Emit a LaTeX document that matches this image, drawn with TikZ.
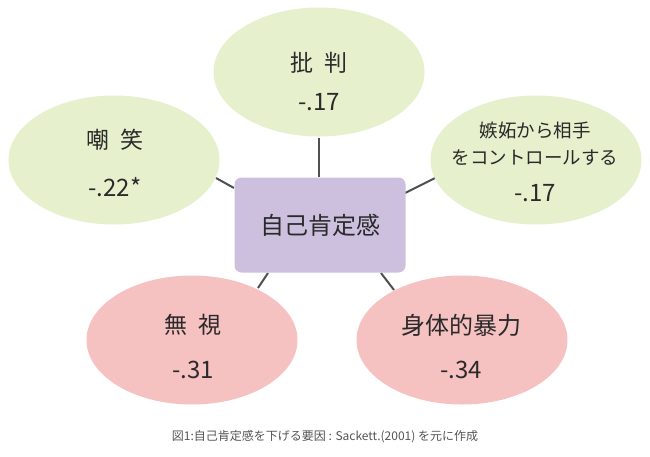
\documentclass[tikz,border=0pt]{standalone}
\usepackage{fontspec}
\setmainfont{Noto Sans CJK JP}
\newfontfamily\cjk{Noto Sans CJK JP}
\definecolor{greenfill}{HTML}{E6F0CC}
\definecolor{pinkfill}{HTML}{F6C1C1}
\definecolor{purplefill}{HTML}{CDBFDE}
\definecolor{linegray}{HTML}{505050}
\definecolor{txt}{HTML}{2A2A2A}
\definecolor{captxt}{HTML}{555555}
\tikzset{
  oval/.style={ellipse, minimum width=211pt, minimum height=129pt, inner sep=0pt, text=txt, align=center},
  goval/.style={oval, fill=greenfill},
  poval/.style={oval, fill=pinkfill},
  centerbox/.style={rectangle, rounded corners=7pt, fill=purplefill, minimum width=171pt, minimum height=95pt, text=txt, inner sep=0pt},
  link/.style={draw=linegray, line width=2pt},
  lbl/.style={font=\cjk\fontsize{23}{26}\selectfont, text=txt, inner sep=0pt},
  num/.style={font=\cjk\fontsize{24}{26}\selectfont, text=txt, inner sep=0pt},
  small/.style={font=\cjk\fontsize{18.5}{22}\selectfont, text=txt, inner sep=0pt}
}
\usetikzlibrary{shapes.geometric}
\begin{document}
\begin{tikzpicture}[x=1pt,y=-1pt]
\useasboundingbox[fill=white] (0,0) rectangle (650,456);
% connector coordinates
\coordinate (t1) at (319,138);
\coordinate (t2) at (319,177);
\coordinate (l1) at (216,178);
\coordinate (l2) at (234,188);
\coordinate (r1) at (405,193);
\coordinate (r2) at (435,178);
\coordinate (bl1) at (268,273);
\coordinate (bl2) at (258,288);
\coordinate (br1) at (381,273);
\coordinate (br2) at (394,290);
\draw[link] (t1) -- (t2);
\draw[link] (l1) -- (l2);
\draw[link] (r1) -- (r2);
\draw[link] (bl1) -- (bl2);
\draw[link] (br1) -- (br2);
% shapes
\node[goval] (top) at (319,72) {};
\node[goval] (left) at (114,160) {};
\node[goval] (right) at (536,160) {};
\node[poval] (bleft) at (192,340) {};
\node[poval] (bright) at (462,340) {};
\node[centerbox] (center) at (320,225) {};
% texts
\node[lbl] (toplbl) at (319,63) {批\hspace{0.5em}判};
\node[num] (topnum) at (319,102) {-.17};
\node[lbl] (leftlbl) at (115,140) {嘲\hspace{0.5em}笑};
\node[num] (leftnum) at (115,187) {-.22*};
\node[small] (rightlbl1) at (535,130) {嫉妬から相手};
\node[small] (rightlbl2) at (535,158) {をコントロールする};
\node[num] (rightnum) at (535,193) {-.17};
\node[font=\cjk\fontsize{24}{28}\selectfont, text=txt, inner sep=0pt] (centerlbl) at (320,225) {自己肯定感};
\node[lbl] (bleftlbl) at (193,325) {無\hspace{0.5em}視};
\node[num] (bleftnum) at (193,370) {-.31};
\node[font=\cjk\fontsize{24}{28}\selectfont, text=txt, inner sep=0pt] (brightlbl) at (461,325) {身体的暴力};
\node[num] (brightnum) at (461,370) {-.34};
\node[font=\cjk\fontsize{12}{14}\selectfont, text=captxt, inner sep=0pt] (caption) at (325,437) {図1:自己肯定感を下げる要因 : Sackett.(2001) を元に作成};
\end{tikzpicture}
\end{document}
